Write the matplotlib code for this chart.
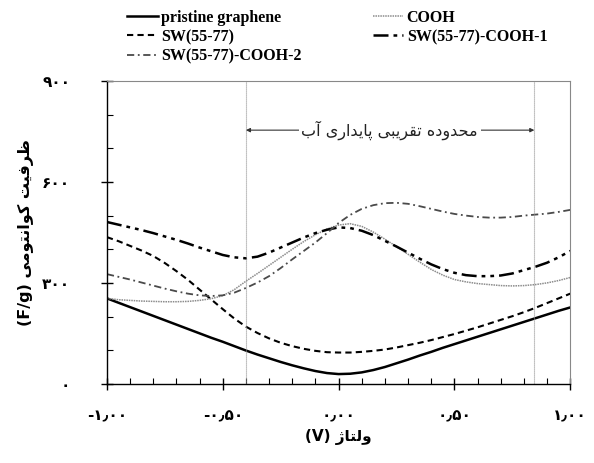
import numpy as np
import matplotlib
matplotlib.use("Agg")
import matplotlib.pyplot as plt
from matplotlib.ticker import MultipleLocator, FixedLocator

# داده ها از روی شکل خوانده شده (گام ۰.۰۵ ولت)
ولتاژ = [-1.00, -0.95, -0.90, -0.85, -0.80, -0.75, -0.70, -0.65, -0.60, -0.55,
         -0.50, -0.45, -0.40, -0.35, -0.30, -0.25, -0.20, -0.15, -0.10, -0.05,
         0.00, 0.05, 0.10, 0.15, 0.20, 0.25, 0.30, 0.35, 0.40, 0.45,
         0.50, 0.55, 0.60, 0.65, 0.70, 0.75, 0.80, 0.85, 0.90, 0.95, 1.00]
pristine = [254, 241, 228, 215, 202, 189, 176, 163, 150, 137,
            125, 112, 99, 87, 76, 65, 55, 46, 38, 32,
            29, 30, 34, 41, 50, 61, 72, 84, 95, 107,
            118, 129, 140, 151, 162, 173, 184, 195, 206, 217, 227]
sw = [436, 424, 410, 396, 380, 359, 335, 309, 280, 251,
      222, 194, 170, 151, 135, 122, 112, 104, 98, 94,
      93, 93, 95, 98, 102, 108, 115, 122, 130, 139,
      148, 158, 168, 179, 190, 201, 213, 226, 240, 254, 268]
cooh = [254, 250, 248, 246, 245, 244, 244, 245, 248, 253,
        262, 280, 305, 328, 352, 376, 400, 423, 443, 460,
        472, 476, 468, 451, 430, 408, 385, 362, 340, 323,
        310, 303, 298, 295, 292, 291, 292, 295, 300, 307, 316]
sw_cooh1 = [481, 473, 465, 457, 448, 438, 428, 417, 405, 394,
            383, 376, 373, 378, 390, 405, 420, 435, 448, 458,
            465, 463, 455, 442, 425, 408, 390, 372, 355, 341,
            330, 323, 320, 320, 322, 328, 338, 348, 360, 376, 395]
sw_cooh2 = [326, 318, 310, 301, 292, 283, 275, 268, 263, 261,
            263, 271, 285, 301, 320, 344, 370, 395, 420, 448,
            478, 502, 520, 531, 537, 538, 535, 528, 520, 512,
            505, 500, 496, 494, 494, 496, 500, 503, 506, 511, 517]

names = ["pristine graphene", "SW(55-77)", "SW(55-77)-COOH-2", "COOH", "SW(55-77)-COOH-1"]

y_ticks = [0, 300, 600, 900]
x_ticks = [-1.0, -0.5, 0.0, 0.5, 1.0]
y_ticklabels = ["۰", "۳۰۰", "۶۰۰", "۹۰۰"]
x_ticklabels = ["-۱٫۰۰", "-۰٫۵۰", "۰٫۰۰", "۰٫۵۰", "۱٫۰۰"]

stability = [-0.40, 0.845]
xlabel_fa = "ولتاژ"
ylabel_fa = "ظرفیت کوانتومی"
note_fa = "محدوده تقریبی پایداری آب"

# شکل دادن ساده حروف فارسی (matplotlib اتصال حروف را انجام نمی دهد)
FORMS = {
    "ا": ("\uFE8D", "\uFE8E", None, None),
    "آ": ("\uFE81", "\uFE82", None, None),
    "ب": ("\uFE8F", "\uFE90", "\uFE91", "\uFE92"),
    "پ": ("\uFB56", "\uFB57", "\uFB58", "\uFB59"),
    "ت": ("\uFE95", "\uFE96", "\uFE97", "\uFE98"),
    "ح": ("\uFEA1", "\uFEA2", "\uFEA3", "\uFEA4"),
    "د": ("\uFEA9", "\uFEAA", None, None),
    "ر": ("\uFEAD", "\uFEAE", None, None),
    "ژ": ("\uFB8A", "\uFB8B", None, None),
    "ظ": ("\uFEC5", "\uFEC6", "\uFEC7", "\uFEC8"),
    "ف": ("\uFED1", "\uFED2", "\uFED3", "\uFED4"),
    "ق": ("\uFED5", "\uFED6", "\uFED7", "\uFED8"),
    "ک": ("\uFB8E", "\uFB8F", "\uFB90", "\uFB91"),
    "ل": ("\uFEDD", "\uFEDE", "\uFEDF", "\uFEE0"),
    "م": ("\uFEE1", "\uFEE2", "\uFEE3", "\uFEE4"),
    "ن": ("\uFEE5", "\uFEE6", "\uFEE7", "\uFEE8"),
    "ه": ("\uFEE9", "\uFEEA", "\uFEEB", "\uFEEC"),
    "و": ("\uFEED", "\uFEEE", None, None),
    "ی": ("\uFBFC", "\uFBFD", "\uFBFE", "\uFBFF"),
}

def farsi(s):
    out = []
    for i, c in enumerate(s):
        if c not in FORMS:
            out.append(c)
            continue
        prev = s[i - 1] if i > 0 else ""
        nxt = s[i + 1] if i + 1 < len(s) else ""
        joins_prev = prev in FORMS and FORMS[prev][2] is not None
        joins_next = FORMS[c][2] is not None and nxt in FORMS
        iso, fin, ini, med = FORMS[c]
        if joins_prev and joins_next:
            out.append(med)
        elif joins_prev:
            out.append(fin)
        elif joins_next:
            out.append(ini)
        else:
            out.append(iso)
    return "".join(out)[::-1]

serif = ["Liberation Serif", "DejaVu Sans"]
fa_font = ["DejaVu Sans"]

fig = plt.figure(figsize=(5.94, 4.63), dpi=100)
ax = fig.add_axes([0.180, 0.171, 0.780, 0.654])

l1, = ax.plot(ولتاژ, pristine, color="black", lw=1.8, ls="-")
l2, = ax.plot(ولتاژ, sw, color="black", lw=1.5, ls=(0, (3, 2)))
l4, = ax.plot(ولتاژ, cooh, color="#8c8c8c", lw=1.1, ls=(0, (1, 0.6)))
l5, = ax.plot(ولتاژ, sw_cooh1, color="black", lw=1.8, ls=(0, (6, 2, 1.5, 2, 1.5, 2)))
l3, = ax.plot(ولتاژ, sw_cooh2, color="#4a4a4a", lw=1.3, ls=(0, (4, 2, 1, 2)))

for xv in stability:
    ax.axvline(xv, color="#999999", lw=0.8, ls=(0, (1, 0.8)))

ax.annotate("", xy=(stability[0], 754), xytext=(stability[1], 754),
            arrowprops=dict(arrowstyle="<|-|>", color="#333333", lw=0.8,
                            mutation_scale=6, shrinkA=0, shrinkB=0))
ax.text(0.22, 754, farsi(note_fa), ha="center", va="center", fontsize=11.5,
        family=fa_font, color="#222222",
        bbox=dict(facecolor="white", edgecolor="none", pad=2))

ax.set_xlim(-1.0, 1.0)
ax.set_ylim(0, 900)
ax.xaxis.set_major_locator(FixedLocator(x_ticks))
ax.yaxis.set_major_locator(FixedLocator(y_ticks))
ax.xaxis.set_minor_locator(MultipleLocator(0.1))
ax.yaxis.set_minor_locator(MultipleLocator(100))
ax.set_xticklabels(x_ticklabels, family=fa_font, fontweight="bold", fontsize=11)
ax.set_yticklabels(y_ticklabels, family=fa_font, fontweight="bold", fontsize=11)
ax.tick_params(which="major", direction="inout", length=9, width=1.0, pad=13)
ax.tick_params(which="minor", direction="in", length=4, width=0.8)
ax.tick_params(axis="y", which="major", pad=22)
for sp in ax.spines.values():
    sp.set_linewidth(1.0)
for sp in ["top", "right"]:
    ax.spines[sp].set_color("#888888")
    ax.spines[sp].set_linewidth(0.8)

ax.set_xlabel("(V) " + farsi(xlabel_fa), family=fa_font, fontweight="bold",
              fontsize=11, labelpad=4)
ax.set_ylabel("(F/g) " + farsi(ylabel_fa), family=fa_font, fontweight="bold",
              fontsize=11.5, labelpad=6)

leg = fig.legend([l1, l2, l3, l4, l5], names, ncol=2, loc="upper left",
                 bbox_to_anchor=(0.19, 1.01), frameon=False,
                 prop=dict(family=serif, weight="bold", size=11.5),
                 handlelength=1.9, handletextpad=0.2, labelspacing=0.2,
                 columnspacing=4.5)

fig.savefig("out.png", dpi=100)
